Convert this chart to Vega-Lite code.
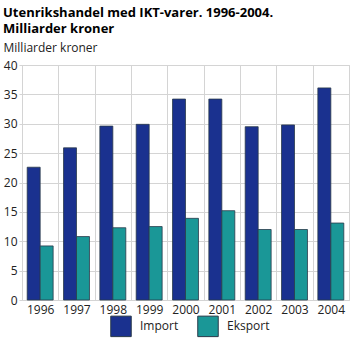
{
  "$schema": "https://vega.github.io/schema/vega-lite/v6.json",
  "width": 327,
  "height": 235,
  "autosize": {"type": "none"},
  "padding": {"left": 22, "top": 65, "right": 6, "bottom": 61},
  "background": "white",
  "config": {
    "font": "Open Sans",
    "view": {"stroke": "#cccccc", "strokeWidth": 1}
  },
  "title": {
    "text": "Utenrikshandel med IKT-varer. 1996-2004.",
    "subtitle": "Milliarder kroner",
    "anchor": "start",
    "frame": "group",
    "dx": -19,
    "offset": 5,
    "fontSize": 13,
    "fontWeight": "bold",
    "color": "#000000",
    "subtitleFontSize": 13,
    "subtitleFontWeight": "bold",
    "subtitleColor": "#000000",
    "subtitlePadding": 3
  },
  "data": {
    "values": [
      {"year": "1996", "type": "Import", "value": 22.6},
      {"year": "1997", "type": "Import", "value": 25.9},
      {"year": "1998", "type": "Import", "value": 29.6},
      {"year": "1999", "type": "Import", "value": 29.9},
      {"year": "2000", "type": "Import", "value": 34.2},
      {"year": "2001", "type": "Import", "value": 34.2},
      {"year": "2002", "type": "Import", "value": 29.5},
      {"year": "2003", "type": "Import", "value": 29.8},
      {"year": "2004", "type": "Import", "value": 36.1},
      {"year": "1996", "type": "Eksport", "value": 9.2},
      {"year": "1997", "type": "Eksport", "value": 10.8},
      {"year": "1998", "type": "Eksport", "value": 12.3},
      {"year": "1999", "type": "Eksport", "value": 12.5},
      {"year": "2000", "type": "Eksport", "value": 13.9},
      {"year": "2001", "type": "Eksport", "value": 15.2},
      {"year": "2002", "type": "Eksport", "value": 12.0},
      {"year": "2003", "type": "Eksport", "value": 12.0},
      {"year": "2004", "type": "Eksport", "value": 13.1}
    ]
  },
  "mark": {"type": "bar", "stroke": "#2a3a4a", "strokeWidth": 0.8},
  "encoding": {
    "x": {
      "field": "year",
      "type": "nominal",
      "scale": {"paddingInner": 0, "paddingOuter": 0},
      "axis": {
        "title": null,
        "labelAngle": 0,
        "grid": true,
        "tickBand": "extent",
        "gridColor": "#d4d4d4",
        "domain": false,
        "ticks": false,
        "labelFontSize": 12,
        "labelColor": "#222222",
        "labelPadding": 4
      }
    },
    "xOffset": {
      "field": "type",
      "type": "nominal",
      "sort": ["Import", "Eksport"],
      "scale": {"paddingOuter": 0.4, "paddingInner": 0}
    },
    "y": {
      "field": "value",
      "type": "quantitative",
      "scale": {"domain": [0, 40]},
      "axis": {
        "values": [0, 5, 10, 15, 20, 25, 30, 35, 40],
        "title": "Milliarder kroner",
        "titleAngle": 0,
        "titleAlign": "left",
        "titleBaseline": "alphabetic",
        "titleX": -19,
        "titleY": -14,
        "titleFontSize": 12,
        "titleFontWeight": "normal",
        "titleColor": "#222222",
        "gridColor": "#d4d4d4",
        "domain": false,
        "tickColor": "#d4d4d4",
        "tickSize": 3,
        "labelFontSize": 12,
        "labelColor": "#222222",
        "labelPadding": 2
      }
    },
    "color": {
      "field": "type",
      "type": "nominal",
      "sort": ["Import", "Eksport"],
      "scale": {"domain": ["Import", "Eksport"], "range": ["#1a318f", "#1a9797"]},
      "legend": {
        "title": null,
        "orient": "none",
        "legendX": 88,
        "legendY": 250,
        "direction": "horizontal",
        "symbolType": "square",
        "symbolSize": 420,
        "symbolStrokeColor": "#2a3a4a",
        "symbolStrokeWidth": 1,
        "labelFontSize": 12,
        "labelColor": "#222222",
        "columnPadding": 16,
        "labelOffset": 8
      }
    }
  }
}
